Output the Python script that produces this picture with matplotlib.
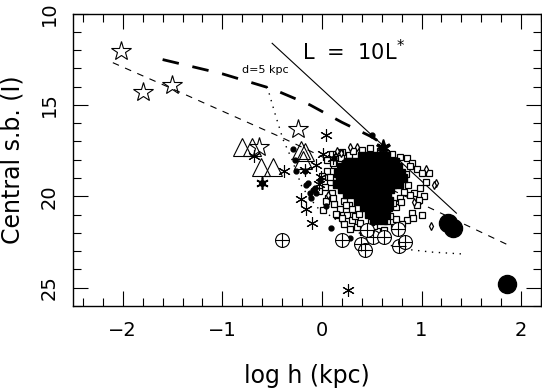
import matplotlib
matplotlib.use('Agg')
import matplotlib.pyplot as plt
from matplotlib.ticker import MultipleLocator

# ---------------- data ----------------
# model lines
l10_x = [-0.50, 1.35]
l10_y = [11.63, 20.92]
d5_x = [-1.60, -1.00, -0.50, -0.12, 0.20, 0.50, 0.60]
d5_y = [12.52, 13.30, 14.12, 15.00, 15.95, 16.75, 17.10]
thin_x = [-2.10, -1.54, -0.39, 1.09, 1.90]
thin_y = [12.69, 14.03, 16.82, 20.65, 22.74]
dot_x = [-0.55, -0.47, -0.39, -0.30, -0.20, -0.05, 0.25, 0.55, 0.85, 1.10, 1.40]
dot_y = [14.00, 15.50, 16.90, 18.00, 19.50, 20.60, 21.65, 22.50, 22.90, 23.05, 23.15]

# large open stars
star_x = [-2.02, -1.80, -1.51, -0.24, -0.63]
star_y = [12.06, 14.27, 13.90, 16.33, 17.28]

# large open triangles
tri_x = [-0.80, -0.70, -0.61, -0.49, -0.21, -0.17, -0.19]
tri_y = [17.28, 17.28, 18.37, 18.37, 17.46, 17.60, 18.00]

# asterisks
ast_x = [-0.68, -0.38, 0.04, 0.01, 0.11, -0.06, -0.17, -0.01, -0.21, -0.16, -0.10, 0.26, -0.03]
ast_y = [17.82, 18.59, 16.64, 17.68, 17.91, 18.28, 18.55, 18.92, 20.15, 20.70, 21.47, 25.11, 19.30]
fast_x = [-0.60]
fast_y = [19.28]
fstar_x = [0.61]
fstar_y = [17.28]

# crossed circles
oplus_x = [-0.40, 0.20, 0.39, 0.43, 0.51, 0.62, 0.76, 0.77, 0.83, 0.45]
oplus_y = [22.38, 22.38, 22.61, 22.96, 22.23, 22.25, 21.79, 22.71, 22.52, 21.85]

# big filled circles
big_x = [1.27, 1.32, 1.86]
big_y = [21.46, 21.74, 24.80]

# dense core of the galaxy cloud
core_x = [0.40, 0.48, 0.56, 0.64,
          0.26, 0.34, 0.42, 0.50, 0.58, 0.66, 0.73,
          0.20, 0.28, 0.36, 0.44, 0.52, 0.60, 0.68, 0.76,
          0.16, 0.23, 0.31, 0.39, 0.47, 0.55, 0.63, 0.71, 0.79,
          0.18, 0.26, 0.34, 0.42, 0.50, 0.58, 0.66, 0.74, 0.81,
          0.15, 0.22, 0.30, 0.38, 0.46, 0.54, 0.62, 0.70, 0.77,
          0.20, 0.28, 0.36, 0.44, 0.52, 0.60, 0.68,
          0.25, 0.33, 0.41, 0.49, 0.57, 0.65,
          0.36, 0.44, 0.52, 0.60, 0.67,
          0.42, 0.50, 0.58, 0.66,
          0.47, 0.56, 0.64,
          0.52, 0.61]
core_y = [17.80, 17.80, 17.80, 17.80,
          18.10, 18.10, 18.10, 18.10, 18.10, 18.10, 18.10,
          18.40, 18.40, 18.40, 18.40, 18.40, 18.40, 18.40, 18.40,
          18.70, 18.70, 18.70, 18.70, 18.70, 18.70, 18.70, 18.70, 18.70,
          19.00, 19.00, 19.00, 19.00, 19.00, 19.00, 19.00, 19.00, 19.00,
          19.30, 19.30, 19.30, 19.30, 19.30, 19.30, 19.30, 19.30, 19.30,
          19.60, 19.60, 19.60, 19.60, 19.60, 19.60, 19.60,
          19.90, 19.90, 19.90, 19.90, 19.90, 19.90,
          20.25, 20.25, 20.25, 20.25, 20.25,
          20.60, 20.60, 20.60, 20.60,
          20.95, 20.95, 20.95,
          21.30, 21.30]

# open squares around the core
sq_x = [0.05, 0.10, 0.15, 0.20, 0.27, 0.31, 0.12, 0.05, 0.00, 0.08, 0.03, 0.10,
        0.06, 0.12, 0.18, 0.15, 0.22, 0.25, 0.30, 0.22, 0.35, 0.85, 0.90, 0.95,
        1.00, 1.08, 1.05, 0.98, 1.02, 0.97, 0.95, 0.90, 0.85, 0.91, 0.80, 0.72,
        0.20, 0.01, 0.04, 0.11, 0.18, 0.19, 0.11, 0.40, 0.48, 0.58, 0.70, 0.78,
        0.08, -0.03, 0.65, 0.38, 0.28, 0.55, 0.92, 1.00, 0.45, 0.33, 0.62, 0.74,
        0.41, 0.52, 0.68, 0.88, 0.14, 0.27, 0.84, 0.86, 0.82, 0.88, 0.78, 0.74,
        0.30, 0.37, 0.24, 0.71, 0.79, 0.58, 0.49]
sq_y = [18.00, 17.70, 17.85, 17.60, 17.72, 17.50, 18.30, 18.60, 18.90, 19.20, 19.50, 19.80,
        20.10, 20.40, 20.70, 21.00, 20.25, 21.00, 21.30, 21.50, 21.70, 17.90, 18.20, 18.50,
        18.73, 18.73, 19.20, 19.55, 20.00, 20.20, 20.50, 20.92, 21.28, 21.19, 21.50, 21.70,
        21.19, 20.74, 20.28, 20.10, 17.64, 17.91, 18.19, 17.45, 17.35, 17.50, 17.70, 17.85,
        18.95, 19.70, 21.35, 21.45, 21.80, 21.90, 19.80, 21.00, 21.75, 21.05, 21.85, 21.25,
        21.95, 21.65, 21.05, 19.95, 20.95, 20.45, 18.80, 19.40, 19.75, 18.35, 20.10, 20.60,
        20.70, 20.95, 20.50, 20.35, 20.30, 21.20, 21.40]

# small open diamonds
dia_x = [1.15, 1.10, 1.05, 0.15, 0.28, 0.19, 0.92, 0.06, 0.35, 1.13]
dia_y = [19.28, 21.65, 18.50, 17.50, 17.30, 17.64, 20.30, 19.95, 17.30, 19.37]

# small filled dots
fdot_x = [-0.29, -0.27, -0.26, -0.17, -0.16, -0.14, -0.09, -0.12, -0.07, -0.11,
          -0.06, 0.09, 0.28, 0.50, 0.12, 0.22, -0.02, 0.04]
fdot_y = [17.40, 18.00, 18.64, 18.64, 19.37, 19.28, 19.64, 19.83, 19.55, 20.10,
          19.83, 21.74, 22.28, 16.65, 17.90, 18.10, 19.10, 20.55]

x_ticks = [-2, -1, 0, 1, 2]
y_ticks = [10, 15, 20, 25]

# ---------------- figure ----------------
plt.rcParams['font.family'] = ['DejaVu Sans']
fig = plt.figure(figsize=(5.42, 3.90), dpi=100)
ax = fig.add_axes([73 / 542, 1 - 306 / 390, (541 - 73) / 542, (306 - 13.5) / 390])

lw = 0.8
ax.plot(l10_x, l10_y, color='black', lw=lw)
ax.plot(d5_x, d5_y, color='black', lw=2.0, dashes=(6, 5))
ax.plot(thin_x, thin_y, color='black', lw=lw, dashes=(6, 6))
ax.plot(dot_x, dot_y, color='black', lw=1.0, dashes=(1, 4))

ax.plot(sq_x, sq_y, 's', ms=4, mfc='white', mec='black', mew=0.9)
ax.plot(core_x, core_y, 's', ms=5.8, color='black', mec='black')
ax.plot(dia_x, dia_y, 'd', ms=4, mfc='white', mec='black', mew=0.9)
ax.plot(fdot_x, fdot_y, 'o', ms=3.5, color='black')

ax.plot(star_x, star_y, '*', ms=15, mfc='none', mec='black', mew=0.8)
ax.plot(tri_x, tri_y, '^', ms=13, mfc='none', mec='black', mew=0.8)
ax.plot(ast_x, ast_y, marker=(6, 2, 0), ls='none', ms=9, color='black', mew=0.8)
ax.plot(fast_x, fast_y, marker=(6, 2, 0), ls='none', ms=9, color='black', mew=1.2)
ax.plot(fast_x, fast_y, 'o', ms=4, color='black')
ax.plot(fstar_x, fstar_y, '*', ms=11, color='black')
ax.plot(fstar_x, fstar_y, marker=(6, 2, 0), ls='none', ms=10, color='black', mew=1.0)
ax.plot(oplus_x, oplus_y, 'o', ms=10, mfc='white', mec='black', mew=0.8)
ax.plot(oplus_x, oplus_y, '+', ms=10, color='black', mew=0.8)
ax.plot(big_x, big_y, 'o', ms=13, color='black')

ax.text(-0.20, 12.55, r'L  =  10L$^{*}$', fontsize=15, color='black')
ax.text(-0.80, 13.25, 'd=5 kpc', fontsize=8, color='black')

ax.set_xlim(-2.5, 2.2)
ax.set_ylim(26, 10)
ax.set_xticks(x_ticks)
ax.set_xticklabels(['\u22122', '\u22121', '0', '1', '2'])
ax.set_yticks(y_ticks)
ax.set_yticklabels([str(v) for v in y_ticks], rotation=90, va='center')
ax.xaxis.set_minor_locator(MultipleLocator(0.2))
ax.yaxis.set_minor_locator(MultipleLocator(1))
ax.tick_params(which='both', direction='in', top=True, right=True, width=0.8, color='black')
ax.tick_params(which='major', length=11, labelsize=14)
ax.tick_params(axis='x', which='major', pad=11)
ax.tick_params(axis='y', which='major', pad=10)
ax.tick_params(which='minor', length=6)
for s in ax.spines.values():
    s.set_linewidth(1.0)

ax.set_xlabel('log h (kpc)', fontsize=17)
ax.set_ylabel('Central s.b. (I)', fontsize=17)
ax.xaxis.set_label_coords(0.5, -0.2)
ax.yaxis.set_label_coords(-0.103, 0.5)

fig.savefig('out.png', dpi=100)
